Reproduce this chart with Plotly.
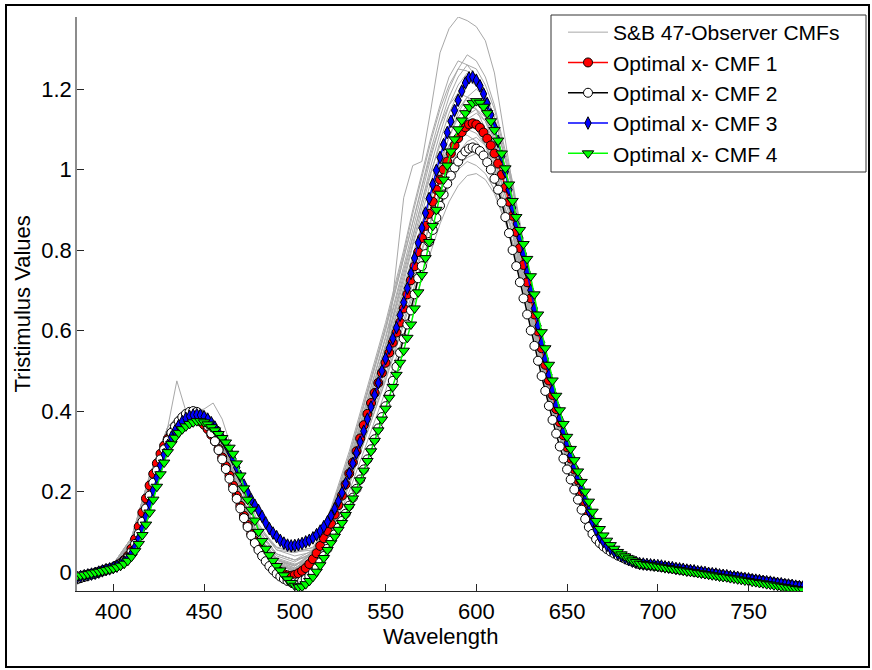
import plotly.graph_objects as go

# ---------------- data ----------------
WAVELENGTHS = list(range(380, 781, 2))

CMF1_RED = [
    -0.012, -0.010, -0.008, -0.006, -0.004, -0.002, 0.001, 0.004, 0.007, 0.009,
    0.012, 0.017, 0.022, 0.030, 0.040, 0.058, 0.082, 0.113, 0.148, 0.183,
    0.215, 0.244, 0.270, 0.294, 0.314, 0.331, 0.345, 0.356, 0.365, 0.372,
    0.377, 0.381, 0.382, 0.380, 0.374, 0.366, 0.355, 0.341, 0.325, 0.306,
    0.285, 0.263, 0.240, 0.215, 0.190, 0.165, 0.140, 0.117, 0.095, 0.077,
    0.060, 0.047, 0.035, 0.024, 0.015, 0.007, 0.000, -0.005, -0.008, -0.009,
    -0.007, -0.003, 0.003, 0.010, 0.020, 0.032, 0.047, 0.065, 0.084, 0.102,
    0.120, 0.143, 0.166, 0.190, 0.218, 0.245, 0.272, 0.300, 0.332, 0.365,
    0.393, 0.420, 0.445, 0.470, 0.495, 0.520, 0.545, 0.570, 0.595, 0.620,
    0.655, 0.690, 0.725, 0.760, 0.795, 0.830, 0.860, 0.890, 0.920, 0.950,
    0.975, 1.000, 1.020, 1.040, 1.060, 1.078, 1.093, 1.105, 1.112, 1.115,
    1.112, 1.104, 1.092, 1.077, 1.060, 1.040, 1.015, 0.987, 0.955, 0.920,
    0.885, 0.845, 0.805, 0.763, 0.720, 0.680, 0.640, 0.598, 0.556, 0.515,
    0.476, 0.440, 0.405, 0.372, 0.340, 0.310, 0.282, 0.255, 0.228, 0.200,
    0.172, 0.145, 0.120, 0.100, 0.085, 0.074, 0.065, 0.057, 0.050, 0.044,
    0.039, 0.035, 0.031, 0.027, 0.023, 0.020, 0.019, 0.018, 0.017, 0.016,
    0.015, 0.014, 0.013, 0.011, 0.010, 0.009, 0.007, 0.006, 0.005, 0.004,
    0.002, 0.001, 0.000, -0.002, -0.003, -0.004, -0.005, -0.007, -0.008, -0.009,
    -0.011, -0.012, -0.013, -0.014, -0.016, -0.017, -0.018, -0.020, -0.021, -0.022,
    -0.024, -0.025, -0.026, -0.028, -0.029, -0.030, -0.031, -0.033, -0.034, -0.035,
    -0.037,
]

CMF2_BLACK = [
    -0.018, -0.015, -0.012, -0.009, -0.006, -0.004, -0.001, 0.002, 0.005, 0.008,
    0.011, 0.015, 0.020, 0.027, 0.036, 0.050, 0.070, 0.095, 0.125, 0.158,
    0.190, 0.222, 0.252, 0.280, 0.305, 0.327, 0.346, 0.362, 0.375, 0.385,
    0.393, 0.398, 0.400, 0.398, 0.390, 0.378, 0.363, 0.345, 0.325, 0.303,
    0.280, 0.256, 0.232, 0.207, 0.182, 0.158, 0.134, 0.112, 0.091, 0.072,
    0.055, 0.040, 0.027, 0.015, 0.005, -0.004, -0.011, -0.017, -0.022, -0.025,
    -0.026, -0.025, -0.022, -0.017, -0.010, -0.001, 0.010, 0.024, 0.040, 0.058,
    0.078, 0.094, 0.110, 0.127, 0.145, 0.165, 0.185, 0.207, 0.230, 0.255,
    0.280, 0.305, 0.330, 0.357, 0.385, 0.412, 0.440, 0.475, 0.510, 0.545,
    0.580, 0.615, 0.650, 0.690, 0.730, 0.760, 0.790, 0.820, 0.850, 0.880,
    0.910, 0.938, 0.965, 0.985, 1.005, 1.020, 1.035, 1.045, 1.052, 1.055,
    1.052, 1.046, 1.035, 1.018, 1.000, 0.977, 0.950, 0.918, 0.882, 0.842,
    0.800, 0.760, 0.720, 0.680, 0.640, 0.600, 0.562, 0.525, 0.487, 0.450,
    0.413, 0.378, 0.344, 0.312, 0.282, 0.255, 0.230, 0.205, 0.180, 0.155,
    0.132, 0.112, 0.095, 0.082, 0.072, 0.064, 0.057, 0.051, 0.046, 0.041,
    0.037, 0.033, 0.029, 0.026, 0.023, 0.020, 0.019, 0.018, 0.017, 0.016,
    0.015, 0.013, 0.012, 0.011, 0.009, 0.008, 0.007, 0.005, 0.004, 0.003,
    0.001, 0.000, -0.001, -0.003, -0.004, -0.005, -0.006, -0.008, -0.009, -0.010,
    -0.012, -0.013, -0.014, -0.015, -0.017, -0.018, -0.019, -0.021, -0.022, -0.023,
    -0.025, -0.026, -0.027, -0.029, -0.030, -0.031, -0.032, -0.034, -0.035, -0.036,
    -0.038,
]

CMF3_BLUE = [
    -0.013, -0.011, -0.009, -0.007, -0.005, -0.003, 0.000, 0.003, 0.006, 0.008,
    0.011, 0.015, 0.019, 0.025, 0.033, 0.045, 0.062, 0.083, 0.108, 0.138,
    0.170, 0.203, 0.235, 0.265, 0.292, 0.315, 0.335, 0.351, 0.364, 0.374,
    0.382, 0.387, 0.390, 0.391, 0.390, 0.386, 0.380, 0.371, 0.360, 0.347,
    0.333, 0.318, 0.300, 0.281, 0.260, 0.238, 0.216, 0.197, 0.180, 0.166,
    0.153, 0.138, 0.122, 0.108, 0.097, 0.088, 0.079, 0.072, 0.067, 0.065,
    0.066, 0.068, 0.071, 0.075, 0.079, 0.085, 0.093, 0.102, 0.113, 0.125,
    0.140, 0.157, 0.176, 0.197, 0.220, 0.245, 0.270, 0.296, 0.323, 0.350,
    0.380, 0.410, 0.440, 0.470, 0.500, 0.530, 0.556, 0.580, 0.607, 0.638,
    0.670, 0.705, 0.742, 0.780, 0.818, 0.855, 0.892, 0.928, 0.963, 0.998,
    1.030, 1.062, 1.092, 1.120, 1.147, 1.172, 1.195, 1.215, 1.228, 1.230,
    1.222, 1.208, 1.188, 1.164, 1.136, 1.105, 1.070, 1.033, 0.995, 0.950,
    0.905, 0.865, 0.830, 0.790, 0.745, 0.700, 0.655, 0.612, 0.570, 0.530,
    0.490, 0.452, 0.415, 0.382, 0.350, 0.320, 0.290, 0.262, 0.235, 0.208,
    0.180, 0.152, 0.126, 0.105, 0.088, 0.076, 0.066, 0.058, 0.051, 0.045,
    0.040, 0.035, 0.031, 0.027, 0.024, 0.021, 0.020, 0.019, 0.018, 0.017,
    0.016, 0.015, 0.013, 0.012, 0.011, 0.009, 0.008, 0.007, 0.005, 0.004,
    0.003, 0.001, 0.000, -0.001, -0.003, -0.004, -0.005, -0.007, -0.008, -0.009,
    -0.011, -0.012, -0.013, -0.015, -0.016, -0.017, -0.019, -0.020, -0.021, -0.023,
    -0.024, -0.025, -0.027, -0.028, -0.029, -0.031, -0.032, -0.033, -0.035, -0.036,
    -0.037,
]

CMF4_GREEN = [
    -0.010, -0.008, -0.007, -0.005, -0.003, -0.001, 0.001, 0.003, 0.005, 0.007,
    0.009, 0.012, 0.016, 0.021, 0.028, 0.038, 0.052, 0.070, 0.092, 0.118,
    0.148, 0.180, 0.212, 0.243, 0.272, 0.298, 0.318, 0.334, 0.346, 0.355,
    0.362, 0.368, 0.372, 0.375, 0.375, 0.372, 0.367, 0.360, 0.352, 0.343,
    0.333, 0.322, 0.309, 0.294, 0.270, 0.240, 0.208, 0.180, 0.155, 0.128,
    0.100, 0.077, 0.058, 0.042, 0.028, 0.015, 0.004, -0.008, -0.018, -0.027,
    -0.034, -0.037, -0.036, -0.030, -0.022, -0.012, 0.001, 0.017, 0.035, 0.055,
    0.072, 0.088, 0.105, 0.122, 0.142, 0.162, 0.183, 0.205, 0.228, 0.252,
    0.276, 0.300, 0.326, 0.352, 0.379, 0.406, 0.433, 0.460, 0.490, 0.520,
    0.550, 0.582, 0.615, 0.655, 0.695, 0.738, 0.780, 0.820, 0.860, 0.900,
    0.940, 0.975, 1.010, 1.045, 1.075, 1.100, 1.122, 1.140, 1.155, 1.165,
    1.170, 1.166, 1.156, 1.140, 1.120, 1.098, 1.072, 1.040, 1.003, 0.963,
    0.922, 0.882, 0.850, 0.815, 0.778, 0.735, 0.690, 0.640, 0.596, 0.556,
    0.515, 0.476, 0.438, 0.402, 0.368, 0.336, 0.306, 0.278, 0.250, 0.224,
    0.200, 0.175, 0.150, 0.127, 0.107, 0.091, 0.078, 0.067, 0.058, 0.050,
    0.044, 0.039, 0.034, 0.029, 0.025, 0.021, 0.020, 0.018, 0.017, 0.016,
    0.014, 0.013, 0.011, 0.010, 0.008, 0.007, 0.005, 0.004, 0.002, 0.001,
    0.000, -0.002, -0.003, -0.005, -0.006, -0.008, -0.009, -0.011, -0.012, -0.013,
    -0.015, -0.016, -0.018, -0.019, -0.021, -0.022, -0.024, -0.025, -0.027, -0.028,
    -0.030, -0.031, -0.033, -0.034, -0.036, -0.037, -0.039, -0.040, -0.042, -0.043,
    -0.045,
]

# Stiles & Burch individual observers (gray), sampled on their own grid
GRAY_WL = [380, 390, 400, 410, 420, 430, 435, 440, 445, 450, 455, 460, 470, 480,
           490, 500, 510, 520, 530, 540, 550, 560, 565, 570, 575, 580, 585, 590,
           595, 600, 605, 610, 620, 630, 640, 650, 660, 670, 680, 690, 700, 740, 780]

OBS_01 = [-0.015, -0.004, 0.012, 0.060, 0.210, 0.360, 0.475, 0.400, 0.395, 0.385, 0.360, 0.320, 0.200, 0.090, 0.030, 0.010,
          0.040, 0.120, 0.250, 0.400, 0.520, 0.930, 1.010, 1.020, 1.150, 1.290, 1.350, 1.379, 1.370, 1.355, 1.320, 1.240,
          0.960, 0.690, 0.460, 0.290, 0.160, 0.075, 0.045, 0.022, 0.016, -0.008, -0.040]
OBS_02 = [-0.012, -0.002, 0.015, 0.065, 0.200, 0.330, 0.365, 0.385, 0.390, 0.380, 0.355, 0.310, 0.190, 0.085, 0.030, 0.015,
          0.050, 0.150, 0.285, 0.445, 0.600, 0.780, 0.870, 0.960, 1.050, 1.130, 1.200, 1.250, 1.285, 1.270, 1.230, 1.160,
          0.970, 0.720, 0.480, 0.300, 0.170, 0.078, 0.045, 0.022, 0.016, -0.008, -0.039]
OBS_03 = [-0.011, 0.000, 0.020, 0.085, 0.240, 0.360, 0.385, 0.390, 0.385, 0.370, 0.340, 0.295, 0.175, 0.075, 0.020, 0.005,
          0.055, 0.160, 0.300, 0.460, 0.620, 0.800, 0.900, 0.990, 1.080, 1.160, 1.230, 1.270, 1.260, 1.230, 1.180, 1.110,
          0.930, 0.690, 0.460, 0.290, 0.165, 0.076, 0.044, 0.021, 0.015, -0.009, -0.040]
OBS_04 = [-0.010, 0.000, 0.018, 0.075, 0.220, 0.350, 0.385, 0.400, 0.405, 0.400, 0.380, 0.340, 0.220, 0.105, 0.045, 0.030,
          0.045, 0.140, 0.275, 0.430, 0.585, 0.760, 0.850, 0.940, 1.030, 1.110, 1.180, 1.230, 1.260, 1.250, 1.210, 1.150,
          0.960, 0.710, 0.470, 0.295, 0.168, 0.077, 0.045, 0.022, 0.015, -0.008, -0.038]
OBS_05 = [-0.012, -0.002, 0.014, 0.060, 0.190, 0.330, 0.370, 0.390, 0.400, 0.405, 0.420, 0.380, 0.240, 0.120, 0.055, 0.040,
          0.050, 0.150, 0.290, 0.450, 0.610, 0.790, 0.890, 0.980, 1.070, 1.150, 1.210, 1.250, 1.245, 1.220, 1.170, 1.100,
          0.920, 0.680, 0.455, 0.290, 0.165, 0.076, 0.045, 0.022, 0.016, -0.008, -0.039]
OBS_06 = [-0.014, -0.004, 0.012, 0.055, 0.180, 0.310, 0.345, 0.365, 0.370, 0.360, 0.335, 0.290, 0.170, 0.070, 0.018, 0.002,
          0.040, 0.130, 0.260, 0.410, 0.565, 0.740, 0.830, 0.920, 1.010, 1.090, 1.160, 1.210, 1.240, 1.230, 1.190, 1.130,
          0.950, 0.700, 0.465, 0.290, 0.165, 0.076, 0.044, 0.021, 0.015, -0.009, -0.039]
OBS_07 = [-0.013, -0.003, 0.014, 0.062, 0.195, 0.325, 0.362, 0.383, 0.392, 0.385, 0.362, 0.318, 0.195, 0.088, 0.032, 0.018,
          0.045, 0.135, 0.265, 0.415, 0.565, 0.730, 0.820, 0.905, 0.990, 1.070, 1.140, 1.190, 1.220, 1.210, 1.170, 1.110,
          0.930, 0.690, 0.460, 0.290, 0.165, 0.076, 0.045, 0.022, 0.016, -0.008, -0.038]
OBS_08 = [-0.012, -0.002, 0.015, 0.065, 0.200, 0.330, 0.365, 0.380, 0.385, 0.375, 0.355, 0.320, 0.210, 0.110, 0.055, 0.048,
          0.062, 0.120, 0.240, 0.380, 0.520, 0.680, 0.760, 0.840, 0.930, 1.010, 1.080, 1.140, 1.180, 1.200, 1.180, 1.130,
          0.960, 0.720, 0.480, 0.300, 0.170, 0.078, 0.046, 0.023, 0.016, -0.008, -0.039]
OBS_09 = [-0.011, -0.001, 0.017, 0.072, 0.215, 0.345, 0.382, 0.398, 0.402, 0.396, 0.376, 0.336, 0.215, 0.100, 0.040, 0.025,
          0.050, 0.140, 0.270, 0.420, 0.560, 0.720, 0.810, 0.890, 0.970, 1.040, 1.100, 1.150, 1.180, 1.170, 1.130, 1.070,
          0.900, 0.670, 0.450, 0.285, 0.162, 0.075, 0.044, 0.021, 0.015, -0.009, -0.039]
OBS_10 = [-0.014, -0.004, 0.013, 0.057, 0.185, 0.315, 0.350, 0.370, 0.378, 0.370, 0.345, 0.300, 0.180, 0.078, 0.022, 0.008,
          0.040, 0.130, 0.255, 0.400, 0.545, 0.700, 0.785, 0.865, 0.945, 1.020, 1.080, 1.130, 1.160, 1.150, 1.120, 1.060,
          0.890, 0.665, 0.445, 0.283, 0.160, 0.075, 0.044, 0.021, 0.015, -0.009, -0.038]
OBS_11 = [-0.011, 0.000, 0.019, 0.080, 0.230, 0.350, 0.378, 0.388, 0.386, 0.374, 0.346, 0.302, 0.182, 0.080, 0.025, 0.010,
          0.035, 0.115, 0.235, 0.370, 0.510, 0.665, 0.745, 0.825, 0.905, 0.980, 1.040, 1.090, 1.125, 1.140, 1.120, 1.080,
          0.920, 0.690, 0.465, 0.295, 0.168, 0.077, 0.045, 0.022, 0.016, -0.008, -0.039]
OBS_12 = [-0.012, -0.002, 0.015, 0.065, 0.200, 0.330, 0.365, 0.385, 0.390, 0.380, 0.355, 0.310, 0.190, 0.085, 0.030, 0.015,
          0.045, 0.130, 0.250, 0.390, 0.530, 0.690, 0.770, 0.850, 0.930, 1.000, 1.060, 1.100, 1.120, 1.110, 1.080, 1.030,
          0.870, 0.650, 0.440, 0.280, 0.160, 0.075, 0.045, 0.022, 0.016, -0.008, -0.038]
OBS_13 = [-0.012, -0.002, 0.015, 0.066, 0.202, 0.332, 0.368, 0.384, 0.390, 0.382, 0.362, 0.328, 0.218, 0.115, 0.062, 0.052,
          0.060, 0.125, 0.245, 0.385, 0.520, 0.675, 0.755, 0.830, 0.910, 0.980, 1.040, 1.080, 1.100, 1.090, 1.060, 1.010,
          0.860, 0.645, 0.435, 0.278, 0.158, 0.074, 0.044, 0.021, 0.015, -0.009, -0.039]
OBS_14 = [-0.010, 0.000, 0.018, 0.075, 0.220, 0.350, 0.385, 0.400, 0.405, 0.400, 0.380, 0.340, 0.220, 0.105, 0.045, 0.030,
          0.040, 0.110, 0.225, 0.360, 0.490, 0.640, 0.720, 0.795, 0.870, 0.940, 1.000, 1.040, 1.070, 1.080, 1.060, 1.020,
          0.880, 0.665, 0.450, 0.288, 0.165, 0.076, 0.045, 0.022, 0.016, -0.008, -0.038]
OBS_15 = [-0.014, -0.004, 0.012, 0.055, 0.180, 0.310, 0.345, 0.365, 0.370, 0.360, 0.335, 0.290, 0.170, 0.070, 0.018, 0.002,
          0.040, 0.120, 0.235, 0.370, 0.505, 0.655, 0.730, 0.805, 0.880, 0.950, 1.010, 1.040, 1.060, 1.050, 1.030, 0.980,
          0.840, 0.635, 0.430, 0.275, 0.157, 0.074, 0.044, 0.021, 0.015, -0.009, -0.039]
OBS_16 = [-0.012, -0.002, 0.016, 0.068, 0.205, 0.335, 0.370, 0.388, 0.392, 0.382, 0.358, 0.315, 0.195, 0.090, 0.035, 0.020,
          0.030, 0.105, 0.215, 0.350, 0.480, 0.625, 0.700, 0.775, 0.845, 0.910, 0.970, 1.010, 1.030, 1.040, 1.020, 0.980,
          0.850, 0.645, 0.440, 0.282, 0.162, 0.076, 0.045, 0.022, 0.016, -0.008, -0.038]
OBS_17 = [-0.011, 0.000, 0.020, 0.085, 0.240, 0.360, 0.385, 0.390, 0.385, 0.370, 0.340, 0.295, 0.175, 0.075, 0.020, 0.005,
          0.035, 0.110, 0.220, 0.350, 0.475, 0.615, 0.690, 0.760, 0.830, 0.900, 0.960, 1.000, 1.020, 1.010, 0.990, 0.950,
          0.820, 0.625, 0.425, 0.272, 0.155, 0.073, 0.044, 0.021, 0.015, -0.009, -0.039]
OBS_18 = [-0.012, -0.002, 0.015, 0.065, 0.200, 0.330, 0.365, 0.380, 0.385, 0.375, 0.355, 0.320, 0.210, 0.110, 0.060, 0.050,
          0.055, 0.100, 0.200, 0.325, 0.450, 0.590, 0.660, 0.730, 0.800, 0.865, 0.920, 0.960, 0.985, 0.990, 0.975, 0.940,
          0.820, 0.630, 0.430, 0.276, 0.158, 0.075, 0.045, 0.022, 0.016, -0.008, -0.038]
OBS_19 = [-0.014, -0.004, 0.012, 0.055, 0.180, 0.310, 0.345, 0.365, 0.370, 0.360, 0.335, 0.290, 0.170, 0.070, 0.018, 0.002,
          0.050, 0.145, 0.275, 0.430, 0.580, 0.750, 0.835, 0.920, 0.995, 1.060, 1.100, 1.130, 1.120, 1.100, 1.060, 1.000,
          0.840, 0.630, 0.430, 0.275, 0.157, 0.074, 0.044, 0.021, 0.015, -0.009, -0.039]
OBS_20 = [-0.010, 0.000, 0.018, 0.075, 0.220, 0.350, 0.385, 0.400, 0.405, 0.400, 0.380, 0.340, 0.220, 0.105, 0.045, 0.030,
          0.055, 0.155, 0.290, 0.450, 0.605, 0.780, 0.870, 0.955, 1.040, 1.110, 1.160, 1.190, 1.180, 1.150, 1.100, 1.040,
          0.870, 0.650, 0.440, 0.280, 0.160, 0.075, 0.044, 0.021, 0.015, -0.009, -0.039]
OBS_21 = [-0.012, -0.002, 0.015, 0.065, 0.200, 0.330, 0.365, 0.385, 0.390, 0.380, 0.355, 0.310, 0.190, 0.085, 0.030, 0.015,
          0.045, 0.135, 0.260, 0.410, 0.550, 0.710, 0.790, 0.865, 0.940, 1.010, 1.060, 1.090, 1.085, 1.070, 1.040, 0.990,
          0.840, 0.635, 0.430, 0.275, 0.157, 0.074, 0.044, 0.021, 0.015, -0.009, -0.039]
OBS_22 = [-0.011, 0.000, 0.020, 0.085, 0.240, 0.360, 0.385, 0.390, 0.385, 0.370, 0.340, 0.295, 0.175, 0.075, 0.020, 0.005,
          0.035, 0.115, 0.235, 0.375, 0.515, 0.670, 0.750, 0.830, 0.910, 0.985, 1.050, 1.100, 1.135, 1.150, 1.130, 1.090,
          0.930, 0.700, 0.470, 0.298, 0.170, 0.077, 0.045, 0.022, 0.016, -0.008, -0.039]

OBSERVERS = [OBS_01, OBS_02, OBS_03, OBS_04, OBS_05, OBS_06, OBS_07, OBS_08, OBS_09, OBS_10, OBS_11,
             OBS_12, OBS_13, OBS_14, OBS_15, OBS_16, OBS_17, OBS_18, OBS_19, OBS_20, OBS_21, OBS_22]

X_TICKS = [400, 450, 500, 550, 600, 650, 700, 750]
Y_TICKS = [0, 0.2, 0.4, 0.6, 0.8, 1.0, 1.2]
Y_TICK_TEXT = ["0", "0.2", "0.4", "0.6", "0.8", "1", "1.2"]

# ---------------- figure ----------------
FONT = "Liberation Sans, Arial, Helvetica, sans-serif"
fig = go.Figure()

for i, obs in enumerate(OBSERVERS):
    fig.add_trace(go.Scatter(
        x=GRAY_WL, y=obs, mode="lines",
        line=dict(color="rgb(168,168,168)", width=1),
        name="S&B 47-Observer CMFs", legendgroup="sb",
        showlegend=(i == 0), hoverinfo="skip"))

series = [
    ("Optimal x- CMF 1", CMF1_RED, "#ff0000", "circle", "#ff0000", 9),
    ("Optimal x- CMF 2", CMF2_BLACK, "#000000", "circle", "#ffffff", 9),
    ("Optimal x- CMF 3", CMF3_BLUE, "#0000ff", "diamond-tall", "#0000ff", 9),
    ("Optimal x- CMF 4", CMF4_GREEN, "#00ff00", "triangle-down", "#00ff00", 10),
]
for k, (name, vals, lc, sym, fc, sz) in enumerate(series):
    fig.add_trace(go.Scatter(
        x=WAVELENGTHS, y=vals, mode="lines+markers", name=name,
        legendgroup=f"g{k}",
        line=dict(color=lc, width=1.5),
        marker=dict(symbol=sym, size=sz, color=fc,
                    line=dict(color="#000000", width=1))))

L, R, T, B = 77, 69, 17, 79
W, H = 872, 670
pw, ph = W - L - R, H - T - B


def px_x(px):
    return (px - L) / pw


def px_y(py):
    return (H - B - py) / ph


fig.update_layout(
    width=W, height=H,
    margin=dict(l=L, r=R, t=T, b=B, pad=0),
    paper_bgcolor="white", plot_bgcolor="white",
    font=dict(family=FONT, size=22, color="#000000"),
    showlegend=True,
    legend=dict(
        x=px_x(563), y=px_y(12), xanchor="left", yanchor="top",
        bgcolor="rgba(0,0,0,0)", borderwidth=0,
        font=dict(family=FONT, size=21, color="#000000"),
        tracegroupgap=0, itemwidth=40,
    ),
    xaxis=dict(
        range=[380, 780], tickmode="array", tickvals=X_TICKS,
        ticks="inside", ticklen=7, tickwidth=1, tickcolor="#262626",
        showline=True, linecolor="#262626", linewidth=1,
        showgrid=False, zeroline=False, mirror=False,
        tickfont=dict(family=FONT, size=22, color="#000000"),
        ticklabelstandoff=1,
    ),
    yaxis=dict(
        range=[-0.047, 1.379], tickmode="array", tickvals=Y_TICKS, ticktext=Y_TICK_TEXT,
        ticks="inside", ticklen=7, tickwidth=1, tickcolor="#262626",
        showline=True, linecolor="#8c8c8c", linewidth=1.5,
        showgrid=False, zeroline=False, mirror=False,
        tickfont=dict(family=FONT, size=22, color="#000000"),
        ticklabelstandoff=-1,
    ),
    annotations=[
        dict(text="Wavelength", xref="paper", yref="paper", x=0.5, y=px_y(636),
             xanchor="center", yanchor="middle", showarrow=False,
             font=dict(family=FONT, size=22, color="#000000")),
        dict(text="Tristimulus Values", xref="paper", yref="paper", x=px_x(21.5), y=0.5,
             xanchor="center", yanchor="middle", textangle=-90, showarrow=False,
             font=dict(family=FONT, size=22, color="#000000")),
    ],
    shapes=[
        dict(type="rect", xref="paper", yref="paper",
             x0=px_x(551), x1=px_x(866), y0=px_y(172), y1=px_y(15),
             line=dict(color="#333333", width=1), fillcolor="white", layer="below"),
        dict(type="rect", xref="paper", yref="paper",
             x0=px_x(6), x1=px_x(869), y0=px_y(667), y1=px_y(5),
             line=dict(color="#000000", width=2), fillcolor="rgba(0,0,0,0)",
             layer="above"),
    ],
)

fig.write_html("out.html", config={"displayModeBar": False},
               post_script="document.body.style.margin='0';")
